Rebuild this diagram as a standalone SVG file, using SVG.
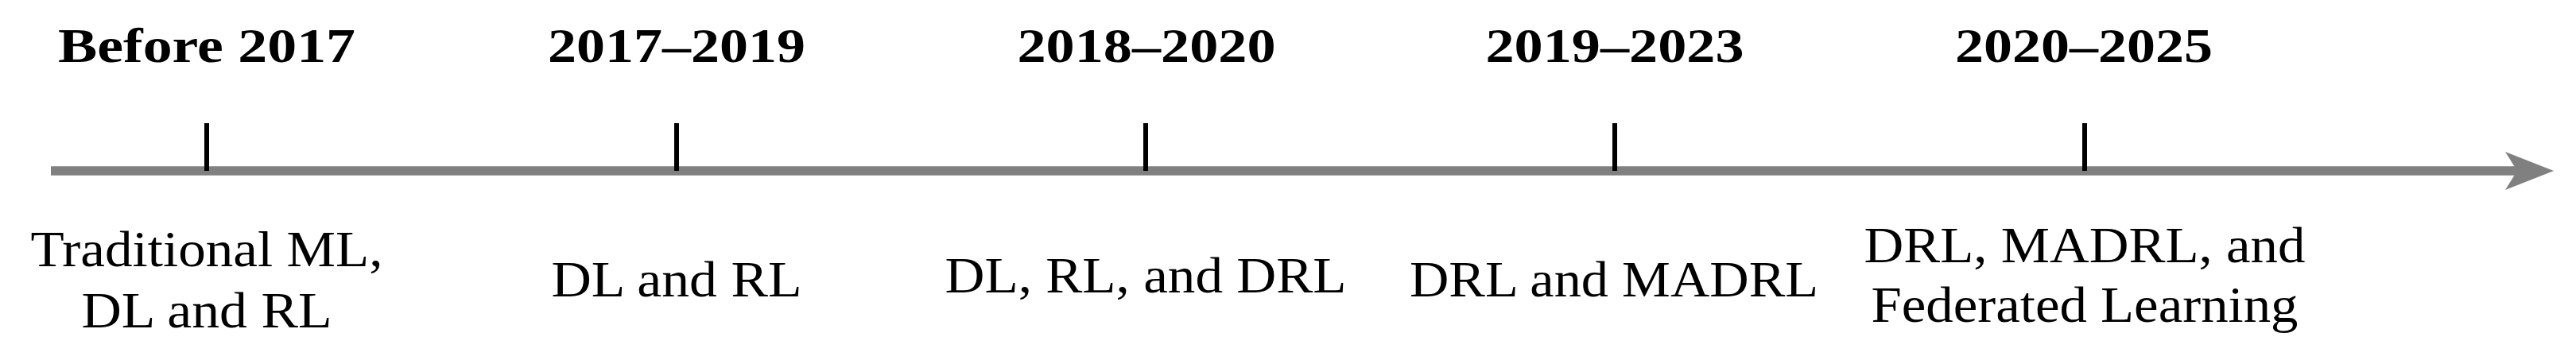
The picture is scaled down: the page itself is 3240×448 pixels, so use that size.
<svg xmlns="http://www.w3.org/2000/svg" width="3240" height="448" viewBox="0 0 3240 448">
<style>
.bg{fill:#ffffff}
.axis{stroke:#808080;stroke-width:11.5;fill:none}
.head{fill:#808080}
.tick{stroke:#000000;stroke-width:6}
.year{font-family:"Liberation Serif","Times New Roman",serif;font-weight:bold;font-size:62px;fill:#000;text-anchor:middle}
.desc{font-family:"Liberation Serif","Times New Roman",serif;font-size:64px;fill:#000;text-anchor:middle}
</style>
<rect class="bg" x="0" y="0" width="3240" height="448"/>
<g id="connectors">
<line class="axis" x1="64" y1="215" x2="3168" y2="215"/>
<polygon class="head" points="3212,215 3151,191 3166,215 3151,239"/>
</g>
<g id="node-before-2017">
<line class="tick" x1="260" y1="155" x2="260" y2="215"/>
<text class="year" x="260" y="78" textLength="374" lengthAdjust="spacingAndGlyphs">Before 2017</text>
<text class="desc" x="260" y="335" textLength="443" lengthAdjust="spacingAndGlyphs">Traditional ML,</text>
<text class="desc" x="260" y="412" textLength="315" lengthAdjust="spacingAndGlyphs">DL and RL</text>
</g>
<g id="node-2017-2019">
<line class="tick" x1="851" y1="155" x2="851" y2="215"/>
<text class="year" x="851" y="78" textLength="324" lengthAdjust="spacingAndGlyphs">2017–2019</text>
<text class="desc" x="851" y="373" textLength="315" lengthAdjust="spacingAndGlyphs">DL and RL</text>
</g>
<g id="node-2018-2020">
<line class="tick" x1="1441" y1="155" x2="1441" y2="215"/>
<text class="year" x="1442" y="78" textLength="325" lengthAdjust="spacingAndGlyphs">2018–2020</text>
<text class="desc" x="1441" y="368" textLength="505" lengthAdjust="spacingAndGlyphs">DL, RL, and DRL</text>
</g>
<g id="node-2019-2023">
<line class="tick" x1="2031" y1="155" x2="2031" y2="215"/>
<text class="year" x="2031" y="78" textLength="325" lengthAdjust="spacingAndGlyphs">2019–2023</text>
<text class="desc" x="2030" y="373" textLength="514" lengthAdjust="spacingAndGlyphs">DRL and MADRL</text>
</g>
<g id="node-2020-2025">
<line class="tick" x1="2622" y1="155" x2="2622" y2="215"/>
<text class="year" x="2621" y="78" textLength="324" lengthAdjust="spacingAndGlyphs">2020–2025</text>
<text class="desc" x="2622" y="330" textLength="555" lengthAdjust="spacingAndGlyphs">DRL, MADRL, and</text>
<text class="desc" x="2622" y="405" textLength="537" lengthAdjust="spacingAndGlyphs">Federated Learning</text>
</g>
</svg>
